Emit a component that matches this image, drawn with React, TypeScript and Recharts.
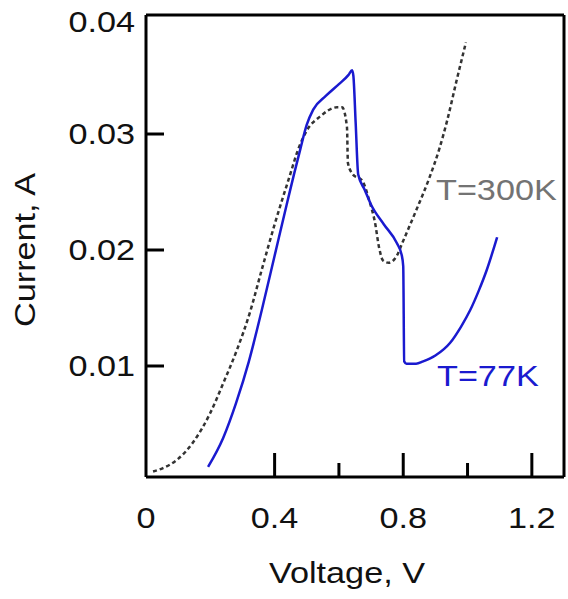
import { Customized, Line, LineChart, ReferenceLine, XAxis, YAxis } from "recharts";

// voltage (V) / current (A)
const coldVoltage = [
  0.193, 0.24, 0.28, 0.32, 0.36, 0.4, 0.44, 0.46, 0.48, 0.5, 0.52, 0.56, 0.6, 0.63, 0.641,
  0.645, 0.652, 0.66, 0.68, 0.7, 0.74, 0.78, 0.795, 0.8, 0.803, 0.81, 0.84, 0.862, 0.9, 0.946,
  0.98, 1.008, 1.035, 1.06, 1.092,
];
const coldCurrent = [
  0.0013, 0.0038, 0.0068, 0.0104, 0.0148, 0.0195, 0.0242, 0.0265, 0.0287, 0.0308, 0.0321, 0.0333,
  0.0343, 0.0351, 0.0355, 0.035, 0.031, 0.0265, 0.0252, 0.0239, 0.0222, 0.0206, 0.0196, 0.0186,
  0.0104, 0.0102, 0.0102, 0.0104, 0.0109, 0.012, 0.0134, 0.0148, 0.0165, 0.0183, 0.0211,
];

const warmVoltage = [
  0.022, 0.053, 0.096, 0.146, 0.199, 0.24, 0.283, 0.323, 0.36, 0.4, 0.446, 0.475, 0.5, 0.541,
  0.594, 0.61, 0.625, 0.628, 0.644, 0.672, 0.695, 0.712, 0.725, 0.737, 0.755, 0.78, 0.797, 0.84,
  0.881, 0.912, 0.937, 0.965, 0.995,
];
const warmCurrent = [
  0.0009, 0.0012, 0.0019, 0.0034, 0.0059, 0.0085, 0.0114, 0.0146, 0.0183, 0.0222, 0.0263, 0.0288,
  0.0303, 0.0315, 0.0323, 0.0323, 0.0306, 0.0275, 0.0265, 0.026, 0.0242, 0.0224, 0.0202, 0.0191,
  0.0189, 0.0195, 0.0206, 0.0234, 0.0262, 0.0287, 0.0312, 0.0345, 0.0379,
];

const xTicks = [0, 0.4, 0.6, 0.8, 1.0, 1.2];
const xLabelled = [0, 0.4, 0.8, 1.2];
const yTicks = [0.01, 0.02, 0.03, 0.04];

const X_MAX = 1.3;
const Y_MIN = 0.00043;
const Y_MAX = 0.04026;

const coldData = coldVoltage.map((v, i) => ({ v, i: coldCurrent[i] }));
const warmData = warmVoltage.map((v, i) => ({ v, i: warmCurrent[i] }));

const BLUE = "#1a1acf";
const FONT = "'Liberation Sans', Arial, sans-serif";
const STRETCH = 1.18;

function Stretched({ x, y, anchor = "middle", fill = "#111", rotate = 0, children }: any) {
  return (
    <text
      transform={`translate(${x},${y}) rotate(${rotate}) scale(${STRETCH},1)`}
      textAnchor={anchor}
      fontSize={29}
      fontFamily={FONT}
      fill={fill}
    >
      {children}
    </text>
  );
}

function XTick({ x, y, payload }: any) {
  const v = payload.value;
  const major = xLabelled.includes(v);
  return (
    <g>
      {v > 0 && (
        <line x1={x} x2={x} y1={y} y2={y - (major ? 24 : 14)} stroke="#000" strokeWidth={3} />
      )}
      {major && (
        <Stretched x={x} y={y + 51}>
          {v === 0 ? "0" : v.toFixed(1)}
        </Stretched>
      )}
    </g>
  );
}

function YTick({ x, y, payload }: any) {
  const v = payload.value;
  return (
    <g>
      {v < 0.035 && <line x1={x} x2={x + 18} y1={y} y2={y} stroke="#000" strokeWidth={3} />}
      <Stretched x={x - 11} y={v > 0.035 ? y + 14 : y + 10} anchor="end">
        {v.toFixed(2)}
      </Stretched>
    </g>
  );
}

function Annotations() {
  return (
    <g>
      <Stretched x={347} y={583}>Voltage, V</Stretched>
      <Stretched x={35} y={250} rotate={-90}>Current, A</Stretched>
      <Stretched x={436} y={200} anchor="start" fill="#737373">T=300K</Stretched>
      <Stretched x={437} y={386} anchor="start" fill={BLUE}>T=77K</Stretched>
    </g>
  );
}

export default function App() {
  return (
    <div style={{ position: "absolute", left: 0, top: 0, background: "#fff" }}>
      <LineChart width={568} height={599} margin={{ top: 15, right: 4, bottom: 0, left: 0 }}>
        <XAxis
          type="number"
          dataKey="v"
          domain={[0, X_MAX]}
          ticks={xTicks}
          height={122}
          tickLine={false}
          tickSize={0}
          tickMargin={0}
          axisLine={{ stroke: "#000", strokeWidth: 3 }}
          tick={<XTick />}
          interval={0}
          allowDataOverflow
        />
        <YAxis
          type="number"
          domain={[Y_MIN, Y_MAX]}
          ticks={yTicks}
          width={146}
          tickLine={false}
          tickSize={0}
          tickMargin={0}
          axisLine={{ stroke: "#000", strokeWidth: 3 }}
          tick={<YTick />}
          interval={0}
          allowDataOverflow
        />
        <ReferenceLine y={Y_MAX} stroke="#000" strokeWidth={3} />
        <ReferenceLine x={X_MAX} stroke="#000" strokeWidth={3} />
        <Line
          data={warmData}
          dataKey="i"
          type="monotone"
          stroke="#333"
          strokeWidth={2.5}
          strokeDasharray="4 3"
          dot={false}
          isAnimationActive={false}
        />
        <Line
          data={coldData}
          dataKey="i"
          type="monotone"
          stroke={BLUE}
          strokeWidth={2.5}
          dot={false}
          isAnimationActive={false}
        />
        <Customized component={Annotations} />
      </LineChart>
    </div>
  );
}
